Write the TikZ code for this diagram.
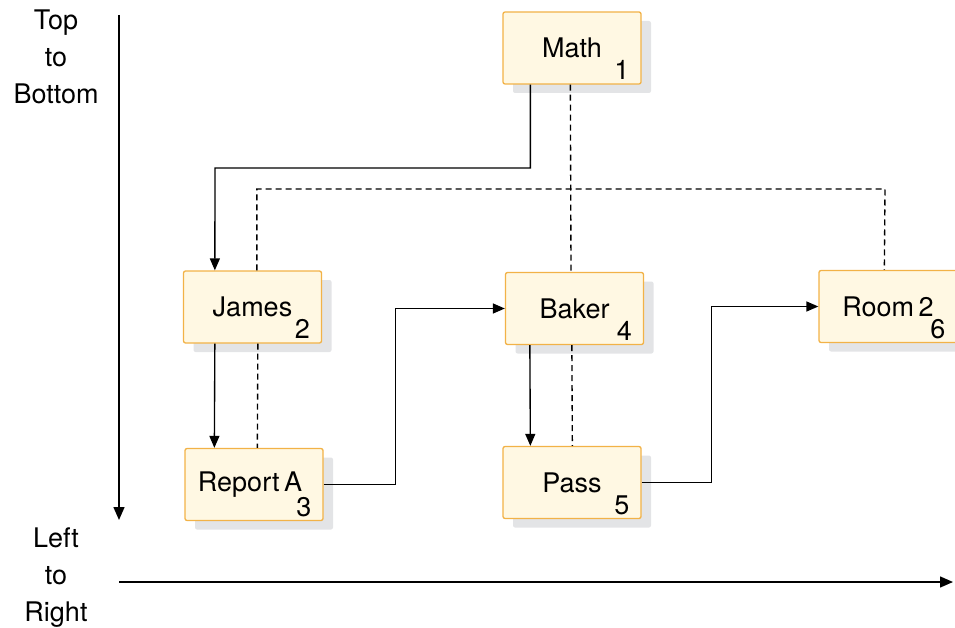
\documentclass[tikz,border=0pt]{standalone}
\usepackage{fontspec}
\setmainfont{TeX Gyre Heros}
\usepackage{tikz}
\usetikzlibrary{positioning, calc, arrows.meta, shadows}

\definecolor{boxfill}{HTML}{FFF8E3}
\definecolor{boxedge}{HTML}{F2B247}
\definecolor{shadowgray}{HTML}{E3E4E6}

\tikzset{
  box/.style={draw=boxedge, line width=1.3pt, fill=boxfill, rounded corners=2pt,
    minimum width=138pt, minimum height=72pt, inner sep=0pt,
    general shadow={fill=shadowgray, shadow xshift=10pt, shadow yshift=-9pt}},
  num/.style={anchor=base east, inner sep=0pt},
  link/.style={line width=1.35pt, -{Triangle[length=12pt,width=10pt]}},
  tie/.style={line width=1.35pt, dash pattern=on 6pt off 4pt},
  axis/.style={line width=1.4pt, -{Triangle[length=13pt,width=11pt]}}
}

\begin{document}
\begin{tikzpicture}[x=1pt, y=-1pt, font=\fontsize{27}{37}\selectfont]

\useasboundingbox (0,0) rectangle (955,628);

%//boxes with their numbers
\foreach \n/\t/\x/\y/\k in {math/Math/572/48/1, james/James/252.5/307/2,
    reportA/Report\,A\kern8pt/254/484.5/3, baker/Baker/574.5/308.5/4,
    pass/Pass/572/482.5/5, room/Room\,2/888/306.5/6}
{
\node [box] (\n) at (\x,\y) {\t};
\node [num] (\n-num) at ([xshift=-12pt, yshift=5pt]\n.south east) {\k};
}

%//top to bottom connectors
\coordinate (mathbend) at (215,168);
\draw [link] ([xshift=28pt]math.south west) |- (mathbend) -- ([xshift=32pt]james.north west);
\draw [link] ([xshift=32pt]james.south west) -- ([xshift=30pt]reportA.north west);
\draw [link] ([xshift=25pt]baker.south west) -- ([xshift=28pt]pass.north west);

%//left to right connectors
\draw [link] (reportA.east) -- ++(72,0) |- (baker.west);
\draw [link] (pass.east) -- ++(70,0) |- (room.west);

%//dashed ties
\coordinate (treebar) at (885,189);
\draw [tie] ([xshift=68pt]math.south west) -- ([xshift=-3.5pt]baker.north);
\draw [tie] ([xshift=74pt]james.north west) |- (treebar) -- ([xshift=66pt]room.north west);
\draw [tie] ([xshift=75pt]james.south west) -- ([xshift=73pt]reportA.north west);
\draw [tie] ([xshift=67pt]baker.south west) -- ([xshift=70pt]pass.north west);

%//axes
\coordinate (tbstart) at (119,15);
\coordinate (tbend) at (119,520);
\coordinate (lrstart) at (119,582);
\coordinate (lrend) at (953,582);
\draw [axis] (tbstart) -- (tbend);
\draw [axis] (lrstart) -- (lrend);

\node [align=center] (tbtext) at (56,57) {Top\\to\\Bottom};
\node [align=center] (lrtext) at (56,578) {Left\\to\\Right};
\end{tikzpicture}
\end{document}
